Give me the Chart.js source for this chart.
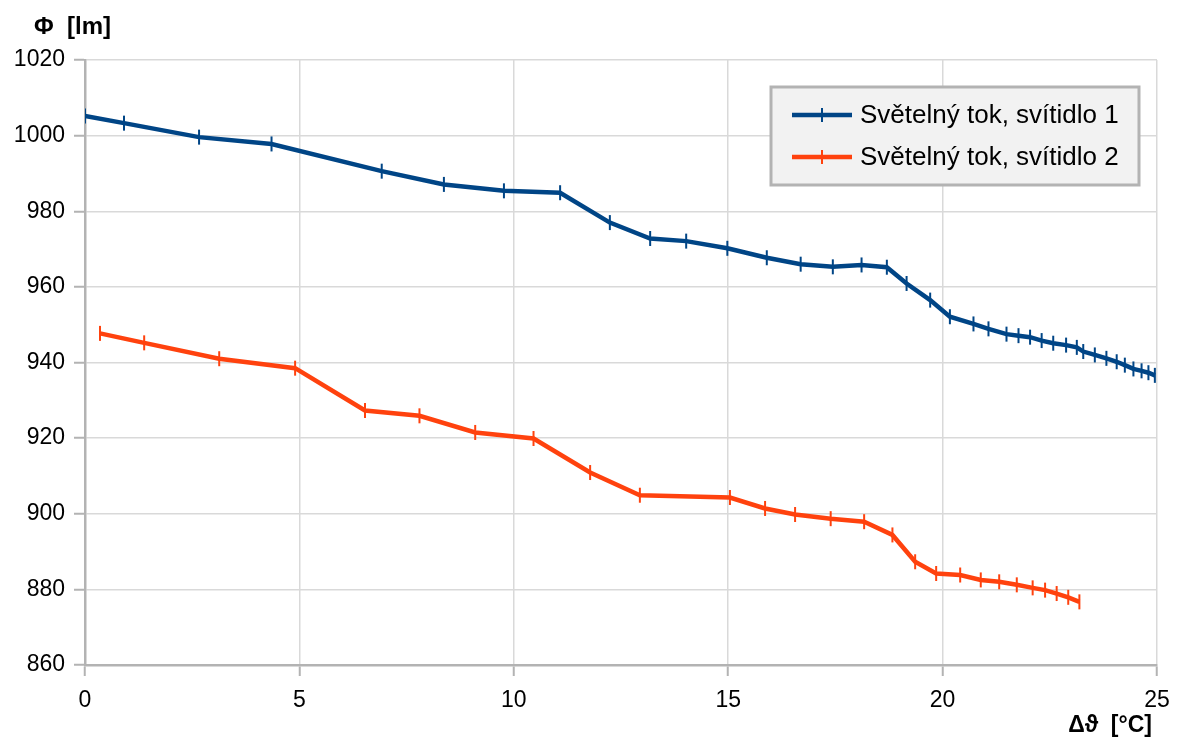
<!DOCTYPE html>
<html>
<head>
<meta charset="utf-8">
<script src="https://cdn.jsdelivr.net/npm/chart.js@4/dist/chart.umd.min.js"></script>
<style>
  html, body { margin: 0; padding: 0; background: #fff; }
  canvas { display: block; }
</style>
</head>
<body>
<canvas id="graf" width="1178" height="737"></canvas>
<script>
// Světelný tok v závislosti na oteplení
const nazvy = ['Světelný tok, svítidlo 1', 'Světelný tok, svítidlo 2'];
const barvy = ['#004586', '#ff420e'];

const dt1 = [0, 0.91, 2.66, 4.35, 6.92, 8.37, 9.77, 11.08, 12.24, 13.18, 14.02, 14.98, 15.90, 16.69, 17.44, 18.11,
  18.70, 19.16, 19.71, 20.17, 20.72, 21.07, 21.49, 21.77, 22.04, 22.31, 22.58, 22.88, 23.13, 23.28, 23.55, 23.82,
  24.06, 24.25, 24.45, 24.64, 24.80, 24.95];
const tok1 = [1005.2, 1003.3, 999.6, 997.8, 990.6, 987.1, 985.4, 984.9, 977.0, 972.8, 972.1, 970.2, 967.7, 966.0, 965.3, 965.8,
  965.2, 960.9, 956.5, 952.1, 950.2, 948.9, 947.5, 947.1, 946.7, 945.8, 945.1, 944.6, 944.0, 942.9, 942.0, 941.1,
  940.2, 939.3, 938.3, 937.8, 937.3, 936.6];

const dt2 = [0.35, 1.38, 3.13, 4.90, 6.53, 7.80, 9.10, 10.46, 11.78, 12.94, 15.04, 15.86, 16.56, 17.39, 18.17,
  18.83, 19.36, 19.85, 20.41, 20.89, 21.32, 21.73, 22.10, 22.39, 22.66, 22.93, 23.19];
const tok2 = [947.7, 945.2, 941.0, 938.5, 927.3, 925.9, 921.5, 919.9, 910.9, 904.9, 904.3, 901.4, 899.8, 898.7, 897.9,
  894.4, 887.3, 884.2, 883.8, 882.5, 882.0, 881.2, 880.4, 879.8, 878.9, 877.9, 876.7];

const xTicky = [0, 5, 10, 15, 20, 25];
const yTicky = [860, 880, 900, 920, 940, 960, 980, 1000, 1020];

const pismo = '"Liberation Sans", Arial, sans-serif';

function body(xs, ys) {
  return xs.map((x, i) => ({ x: x, y: ys[i] }));
}

function rada(i, xs, ys) {
  return {
    label: nazvy[i],
    data: body(xs, ys),
    borderColor: barvy[i],
    backgroundColor: barvy[i],
    borderWidth: 4.5,
    pointStyle: 'line',
    pointRotation: 90,
    pointRadius: 7.5,
    pointBorderWidth: 2,
    pointBorderColor: barvy[i],
    tension: 0,
    fill: false
  };
}

// popisky os a legenda v rámečku
const popisky = {
  id: 'popisky',
  afterDraw(chart) {
    const c = chart.ctx;
    c.save();
    c.fillStyle = '#000';
    c.font = 'bold 24px ' + pismo;
    c.textBaseline = 'middle';
    c.textAlign = 'left';
    c.fillText('Φ  [lm]', 34, 27);
    c.font = 'bold 23px ' + pismo;
    c.textAlign = 'right';
    c.fillText('Δϑ  [°C]', 1152, 726);

    // legenda
    const lx = 771, ly = 87, lw = 368, lh = 98;
    c.fillStyle = '#f2f2f2';
    c.fillRect(lx, ly, lw, lh);
    c.strokeStyle = '#b3b3b3';
    c.lineWidth = 3;
    c.strokeRect(lx, ly, lw, lh);
    c.font = '26px ' + pismo;
    c.textAlign = 'left';
    chart.data.datasets.forEach((ds, i) => {
      const y = 115 + i * 42;
      c.strokeStyle = ds.borderColor;
      c.lineWidth = 4.5;
      c.beginPath();
      c.moveTo(792, y);
      c.lineTo(852, y);
      c.stroke();
      c.lineWidth = 2;
      c.beginPath();
      c.moveTo(822, y - 7);
      c.lineTo(822, y + 7);
      c.stroke();
      c.fillStyle = '#000';
      c.fillText(ds.label, 860, y + 1);
    });
    c.restore();
  }
};

new Chart(document.getElementById('graf'), {
  type: 'line',
  data: {
    datasets: [rada(0, dt1, tok1), rada(1, dt2, tok2)]
  },
  options: {
    responsive: false,
    animation: false,
    events: [],
    layout: { padding: { top: 60, right: 21, left: 0, bottom: 0 } },
    plugins: {
      legend: { display: false },
      tooltip: { enabled: false }
    },
    scales: {
      x: {
        type: 'linear',
        min: 0,
        max: 25,
        afterBuildTicks: s => { s.ticks = xTicky.map(v => ({ value: v })); },
        afterFit: s => { s.height = 72; s.paddingLeft = 0; s.paddingRight = 0; },
        ticks: { color: '#000', font: { family: pismo, size: 23 }, padding: 11, maxRotation: 0, callback: v => String(v) },
        grid: { color: '#d9d9d9', lineWidth: 1.5, tickColor: '#b3b3b3', tickLength: 11, tickWidth: 2 },
        border: { color: '#b3b3b3', width: 2.5 }
      },
      y: {
        min: 860,
        max: 1020,
        afterBuildTicks: s => { s.ticks = yTicky.map(v => ({ value: v })); },
        afterFit: s => { s.width = 85; s.paddingTop = 0; s.paddingBottom = 0; },
        ticks: { color: '#000', font: { family: pismo, size: 23 }, padding: 9, callback: v => String(v) },
        grid: { color: '#d9d9d9', lineWidth: 1.5, tickColor: '#b3b3b3', tickLength: 11, tickWidth: 2 },
        border: { color: '#b3b3b3', width: 2.5 }
      }
    }
  },
  plugins: [popisky]
});
</script>
</body>
</html>
